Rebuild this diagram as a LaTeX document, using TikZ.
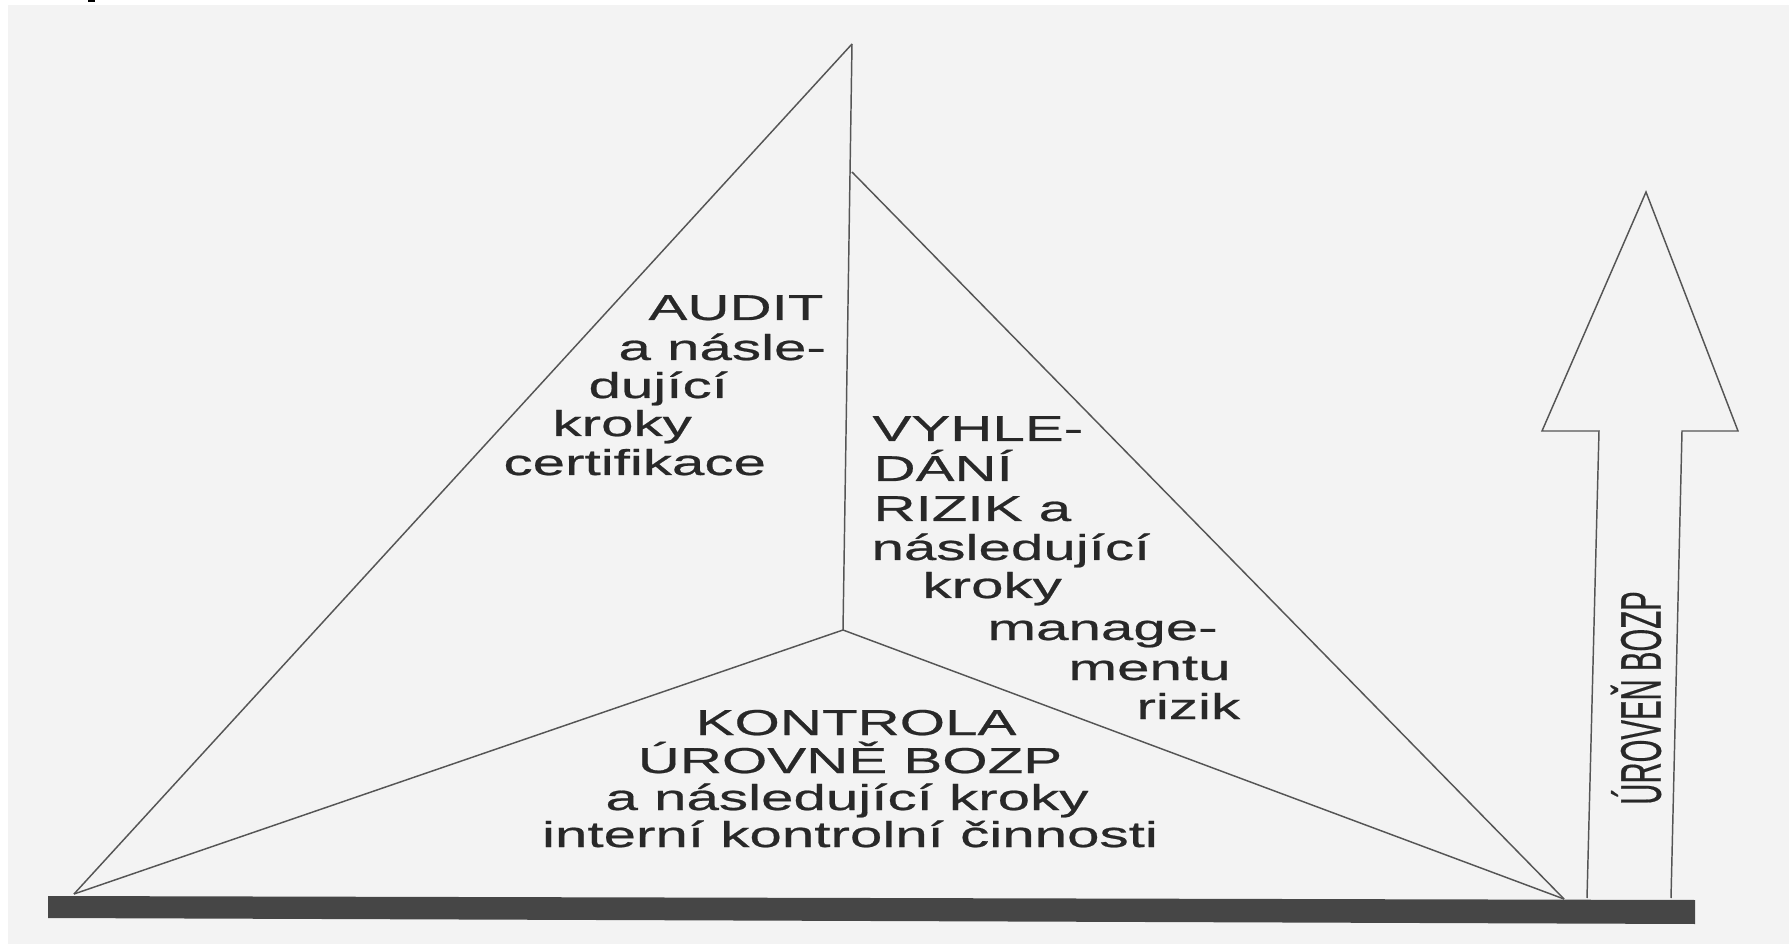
\documentclass[tikz,border=0pt]{standalone}
\usepackage{fontspec}
\usepackage{graphicx}
\setmainfont{Liberation Sans}
\newfontfamily\widesans[FakeStretch=1.62,FakeBold=0.6]{Liberation Sans}
\newfontfamily\tallsans[FakeBold=0.5]{Liberation Sans}
\definecolor{paper}{RGB}{243,243,243}
\definecolor{linegray}{RGB}{85,85,85}
\definecolor{inkgray}{RGB}{40,40,40}
\definecolor{bargray}{RGB}{70,70,70}
\tikzset{every picture/.style={line width=0.75pt}}

\begin{document}
\begin{tikzpicture}[x=0.75pt,y=0.75pt,yscale=-1,xscale=1,
  edge/.style={draw=linegray, line width=1.1pt},
  lbl/.style={text=inkgray, inner sep=0pt, anchor=base west, font=\widesans\fontsize{27}{29}\selectfont},
  clbl/.style={lbl, anchor=base}]
	\useasboundingbox (0,0) rectangle (1789,944);
	%Paper
	\fill [white] (0,0) rectangle (1789,944);
	\fill [paper] (8,5) rectangle (1789,944);
	\fill [black] (88,0) rectangle (95,2);

	%Corners of the pyramid
	\coordinate (apex) at (852,44);
	\coordinate (ridge) at (852,172);
	\coordinate (mid) at (843,630);
	\coordinate (lcorner) at (74,894);
	\coordinate (rcorner) at (1564,899);

	%Straight Lines
	\draw [edge] (apex) -- (lcorner) ;
	\draw [edge] (apex) -- (mid) ;
	\draw [edge] (ridge) -- (rcorner) ;
	\draw [edge] (mid) -- (lcorner) ;
	\draw [edge] (mid) -- (rcorner) ;

	%Shape: Arrow
	\draw [edge, line join=miter] (1587,898) -- (1599,431) -- (1542,431) -- (1646,192) -- (1738,431) -- (1682,431) -- (1671,898) ;

	%Shape: Base bar
	\fill [bargray] (48,896) -- (1695,900) -- (1695,924) -- (48,918) -- cycle ;

	% Text Node
	\node [lbl] (audit1) at (648,320) {AUDIT};
	\node [lbl] (audit2) at (618,360) {a násle-};
	\node [lbl] (audit3) at (588,398) {dující};
	\node [lbl] (audit4) at (552,436) {kroky};
	\node [lbl] (audit5) at (503,475) {certifikace};
	% Text Node
	\node [lbl] (risk1) at (872,441) {VYHLE-};
	\node [lbl] (risk2) at (873,481) {DÁNÍ};
	\node [lbl] (risk3) at (873,521) {RIZIK a};
	\node [lbl] (risk4) at (871,560) {následující};
	\node [lbl] (risk5) at (922,598) {kroky};
	\node [lbl] (risk6) at (987,640) {manage-};
	\node [lbl] (risk7) at (1068,680) {mentu};
	\node [lbl] (risk8) at (1136,719) {rizik};
	% Text Node
	\node [clbl] (ctrl1) at (856,735) {KONTROLA};
	\node [clbl] (ctrl2) at (850,773) {ÚROVNĚ BOZP};
	\node [clbl] (ctrl3) at (847,810) {a následující kroky};
	\node [clbl] (ctrl4) at (850,847) {interní kontrolní činnosti};
	% Text Node
	\node [text=inkgray, inner sep=0pt, rotate=90, font=\tallsans\fontsize{22}{24}\selectfont] (level) at (1636,698) {\scalebox{1}[1.95]{ÚROVEŇ BOZP}};

\end{tikzpicture}
\end{document}
